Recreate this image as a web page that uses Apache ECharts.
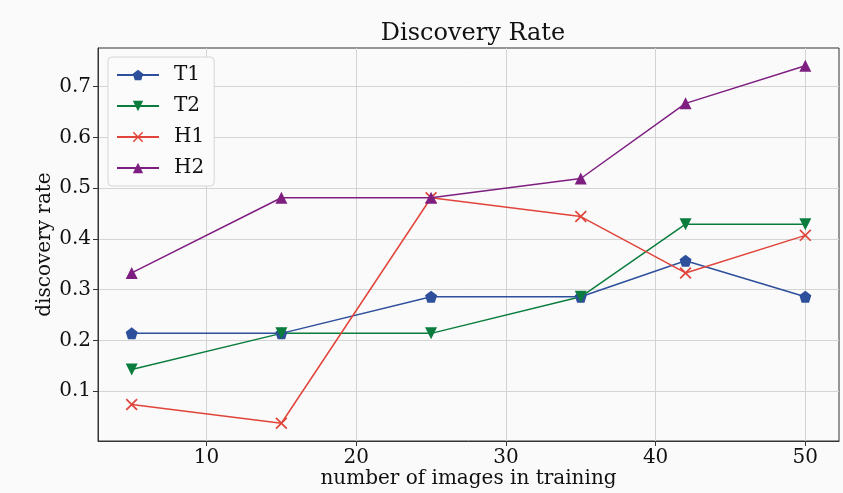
<!DOCTYPE html>
<html>
<head>
<meta charset="utf-8">
<script src="https://cdn.jsdelivr.net/npm/echarts@6/dist/echarts.min.js"></script>
<style>
html,body{margin:0;padding:0;background:#fafafa;}
#c{width:843px;height:493px;}
</style>
</head>
<body>
<div id="c"></div>
<script>
const xValues = [5, 15, 25, 35, 42, 50];
const seriesNames = ['T1', 'T2', 'H1', 'H2'];
const T1 = [0.214, 0.214, 0.286, 0.286, 0.357, 0.286];
const T2 = [0.143, 0.214, 0.214, 0.286, 0.429, 0.429];
const H1 = [0.074, 0.037, 0.481, 0.444, 0.333, 0.407];
const H2 = [0.333, 0.481, 0.481, 0.519, 0.667, 0.741];
const xTicks = [10, 20, 30, 40, 50];
const yTicks = [0.1, 0.2, 0.3, 0.4, 0.5, 0.6, 0.7];

const colors = ['#2d4f9c', '#0a7d3e', '#e0443a', '#7e1e80'];
const symbols = [
  'path://M5,0L10,3.8L8.1,10L1.9,10L0,3.8Z',
  'path://M0,0L10,0L5,9Z',
  'path://M0,1L1,0L5,4L9,0L10,1L6,5L10,9L9,10L5,6L1,10L0,9L4,5Z',
  'path://M5,0L10,9L0,9Z'
];
const symbolSizes = [12, 12, 12, 12];
const dataSets = [T1, T2, H1, H2];
const FONT = '"DejaVu Serif", serif';

const chart = echarts.init(document.getElementById('c'), null, {renderer: 'canvas'});
chart.setOption({
  backgroundColor: '#fafafa',
  animation: false,
  title: {
    text: 'Discovery Rate',
    left: 468, top: 17, textAlign: 'center',
    textStyle: {fontFamily: FONT, fontSize: 24, fontWeight: 'normal', color: '#111'}
  },
  grid: {
    left: 98, right: 4, top: 48, bottom: 52,
    outerBoundsMode: 'none', containLabel: false,
    show: true, borderColor: '#333', borderWidth: 1, backgroundColor: '#fafafa'
  },
  legend: {
    orient: 'vertical', left: 108, top: 57,
    padding: [8, 10, 8, 8],
    itemWidth: 42, itemHeight: 13, itemGap: 11,
    backgroundColor: '#fbfbfb', borderColor: '#d6d6d6', borderWidth: 1, borderRadius: 4,
    textStyle: {fontFamily: FONT, fontSize: 20, color: '#111', padding: [0, 0, 0, 10]},
    data: seriesNames
  },
  xAxis: {
    type: 'value', min: 2.75, max: 52.25,
    name: 'number of images in training', nameLocation: 'middle', nameGap: 28,
    nameMoveOverlap: false,
    nameTextStyle: {fontFamily: FONT, fontSize: 20, color: '#111'},
    axisLine: {show: true, lineStyle: {color: '#333'}},
    axisTick: {show: true, length: 5, lineStyle: {color: '#333'}, customValues: xTicks},
    axisLabel: {fontFamily: FONT, fontSize: 20, color: '#111', margin: 7, customValues: xTicks},
    splitLine: {show: true, lineStyle: {color: '#d4d4d4', width: 1}}
  },
  yAxis: {
    type: 'value', min: 0.002, max: 0.776,
    name: 'discovery rate', nameLocation: 'middle', nameGap: 43,
    nameMoveOverlap: false,
    nameTextStyle: {fontFamily: FONT, fontSize: 20, color: '#111'},
    axisLine: {show: true, lineStyle: {color: '#333'}},
    axisTick: {show: true, length: 5, lineStyle: {color: '#333'}, customValues: yTicks},
    axisLabel: {fontFamily: FONT, fontSize: 20, color: '#111', margin: 7, customValues: yTicks,
      formatter: v => v.toFixed(1)},
    splitLine: {show: true, lineStyle: {color: '#d4d4d4', width: 1}}
  },
  series: seriesNames.map((name, i) => ({
    name: name,
    type: 'line',
    data: xValues.map((x, j) => [x, dataSets[i][j]]),
    symbol: symbols[i],
    symbolSize: symbolSizes[i],
    showAllSymbol: true,
    color: colors[i],
    lineStyle: {width: 1.5, color: colors[i]},
    itemStyle: {color: colors[i], borderWidth: 0}
  }))
});
</script>
</body>
</html>
